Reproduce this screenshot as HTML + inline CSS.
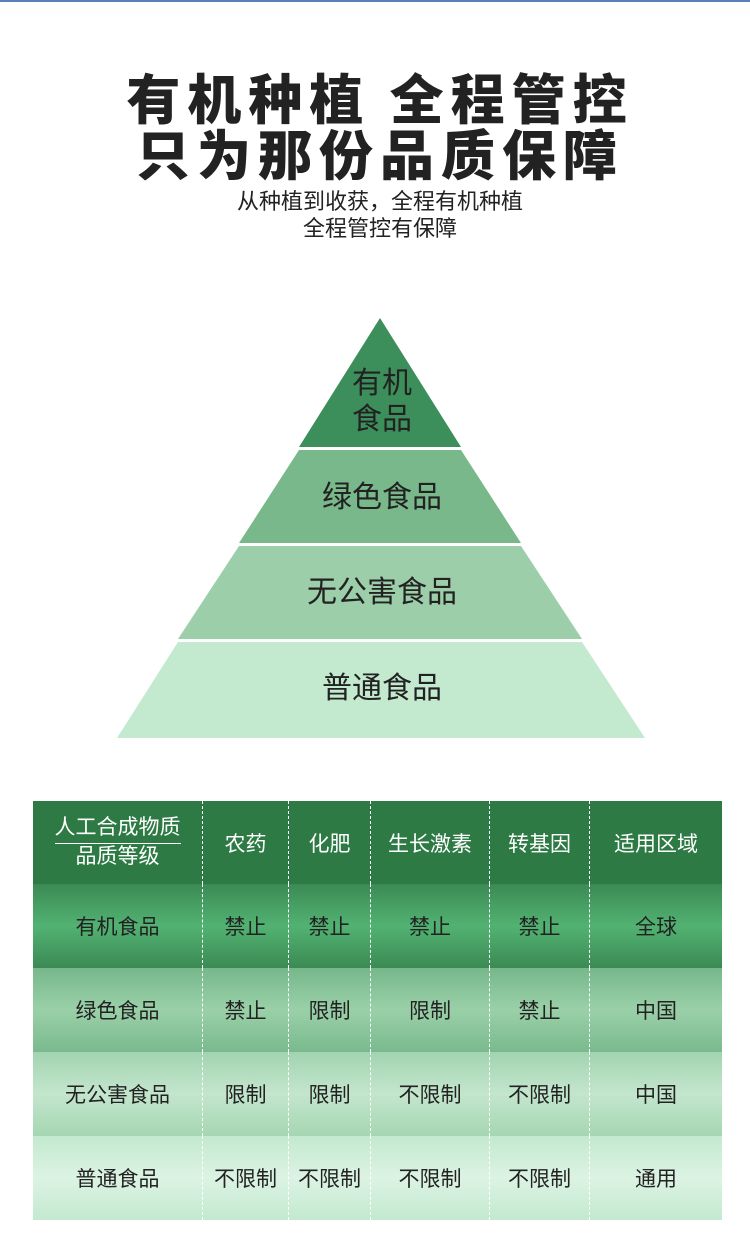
<!DOCTYPE html>
<html><head><meta charset="utf-8"><style>
body{margin:0;width:750px;height:1257px;background:#fff;position:relative;overflow:hidden;font-family:"Liberation Sans","Noto Sans CJK SC",sans-serif}
.top{position:absolute;left:0;top:0;width:750px;height:2px;background:#5a7fb8}
.t{position:absolute;left:0;width:760px;text-align:center;font-family:"Noto Sans CJK SC",sans-serif;font-weight:900;font-size:54px;color:#222;letter-spacing:7px}
.s{position:absolute;left:0;width:760px;text-align:center;font-size:22px;color:#222;line-height:27px}
table{position:absolute;left:33px;top:801px;width:689px;border-collapse:collapse;font-size:21px;text-align:center;table-layout:fixed}
td{padding:0;border-left:1px dashed #fff}
td:first-child{border-left:none}
tr.h td{height:83px;background:#2e7a45;color:#fff}
tr.r td{height:84px;color:#222}
</style></head><body>
<div class="top"></div>
<div class="t" style="top:64px;line-height:64px">有机种植 全程管控</div>
<div class="t" style="top:120px;line-height:64px">只为那份品质保障</div>
<div class="s" style="top:188px">从种植到收获，全程有机种植<br>全程管控有保障</div>
<svg style="position:absolute;left:0;top:0" width="750" height="760">
<polygon points="380,318 461,447 299,447" fill="#3c8f5a"/>
<polygon points="299,450 461,450 521,543 239,543" fill="#78b88a"/>
<polygon points="239,546 521,546 582,639 178,639" fill="#9ccea9"/>
<polygon points="178,642 582,642 645,738 117,738" fill="#c3e9cf"/>
<g font-family="Liberation Sans,Noto Sans CJK SC,sans-serif" font-size="30" fill="#222" text-anchor="middle">
<text x="382" y="393">有机</text><text x="382" y="429">食品</text>
<text x="382" y="507">绿色食品</text>
<text x="382" y="602">无公害食品</text>
<text x="382" y="698">普通食品</text>
</g></svg>
<table>
<tr class="h"><td style="width:169px"><div style="display:inline-block;border-bottom:1px solid #fff;padding:0 0 2px;line-height:26px">人工合成物质</div><div style="line-height:26px">品质等级</div></td><td style="width:85px">农药</td><td style="width:81px">化肥</td><td style="width:118px">生长激素</td><td style="width:99px">转基因</td><td>适用区域</td></tr>
<tr class="r" style="background:linear-gradient(#3b8a54,#52b272 50%,#3b8a54)"><td>有机食品</td><td>禁止</td><td>禁止</td><td>禁止</td><td>禁止</td><td>全球</td></tr>
<tr class="r" style="background:linear-gradient(#77b78c,#9ad0a8 50%,#7ab98e)"><td>绿色食品</td><td>禁止</td><td>限制</td><td>限制</td><td>禁止</td><td>中国</td></tr>
<tr class="r" style="background:linear-gradient(#a2d3b0,#c3e6cd 50%,#a5d6b2)"><td>无公害食品</td><td>限制</td><td>限制</td><td>不限制</td><td>不限制</td><td>中国</td></tr>
<tr class="r" style="background:linear-gradient(#c3e9cf,#dcf3e3 50%,#c3e9cf)"><td>普通食品</td><td>不限制</td><td>不限制</td><td>不限制</td><td>不限制</td><td>通用</td></tr>
</table>
</body></html>
